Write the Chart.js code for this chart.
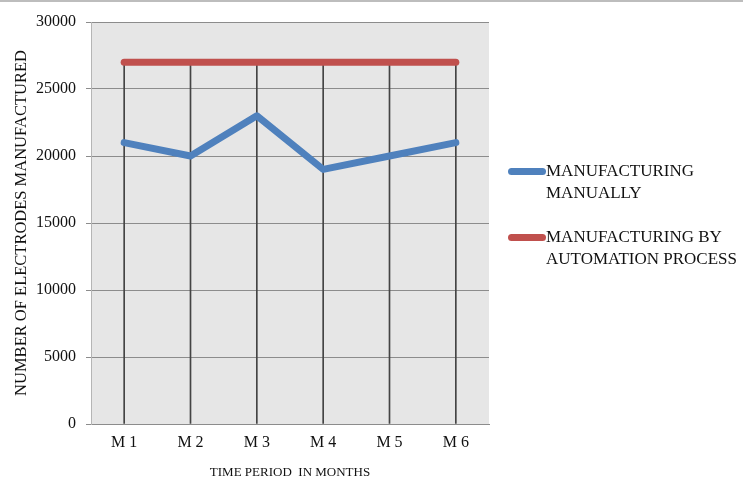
<!DOCTYPE html>
<html>
<head>
<meta charset="utf-8">
<script src="https://cdn.jsdelivr.net/npm/chart.js@4"></script>
<style>
    html, body { margin: 0; padding: 0; background: #fff; }
    #wrap { position: relative; width: 743px; height: 480px; }
    #topLine { position: absolute; left: 0; top: 0; width: 743px; height: 2px; background: #bdbdbd; }
    #legend { position: absolute; left: 508px; top: 160px; font-family: "Liberation Serif", serif; font-size: 17px; color: #111; }
    .item { position: relative; padding-left: 38px; line-height: 22px; margin-bottom: 22px; }
    .swatch { position: absolute; left: 0; top: 8px; width: 38px; height: 7px; border-radius: 3.5px; }
</style>
</head>
<body>
<div id="wrap">
    <canvas id="mainChart" width="743" height="480"></canvas>
    <div id="topLine"></div>
    <div id="legend"></div>
</div>
<script>
// 数据
const months = ['M 1', 'M 2', 'M 3', 'M 4', 'M 5', 'M 6'];
const manualValues = [21000, 20000, 23000, 19000, 20000, 21000];
const automationValues = [27000, 27000, 27000, 27000, 27000, 27000];
const yTicks = [0, 5000, 10000, 15000, 20000, 25000, 30000];

const seriesNames = ['MANUFACTURING\nMANUALLY', 'MANUFACTURING BY\nAUTOMATION PROCESS'];
const seriesColors = ['#4f81bd', '#c0504d'];

// 垂线（从最高点落到横轴）
const dropValues = months.map((_, i) => Math.max(manualValues[i], automationValues[i]));

const serif = '"Liberation Serif", "Times New Roman", serif';

// 绘图区背景
const plotBackground = {
    id: 'plotBackground',
    beforeDraw(chart) {
        const { ctx, chartArea } = chart;
        ctx.save();
        ctx.fillStyle = '#e6e6e6';
        ctx.fillRect(chartArea.left, chartArea.top, chartArea.right - chartArea.left, chartArea.bottom - chartArea.top);
        ctx.restore();
    }
};

const ctx = document.getElementById('mainChart').getContext('2d');
new Chart(ctx, {
    data: {
        labels: months,
        datasets: [
            {
                type: 'line',
                label: seriesNames[0],
                data: manualValues,
                borderColor: seriesColors[0],
                borderWidth: 7,
                pointRadius: 0,
                borderCapStyle: 'round',
                borderJoinStyle: 'round',
                tension: 0,
                order: 1
            },
            {
                type: 'line',
                label: seriesNames[1],
                data: automationValues,
                borderColor: seriesColors[1],
                borderWidth: 7,
                pointRadius: 0,
                borderCapStyle: 'round',
                tension: 0,
                order: 0
            },
            {
                type: 'bar',
                label: 'drop',
                data: dropValues,
                backgroundColor: '#444',
                barThickness: 1,
                order: 10
            }
        ]
    },
    options: {
        responsive: false,
        animation: false,
        layout: { padding: { top: 22, right: 254, left: 0, bottom: 0 } },
        plugins: {
            legend: { display: false },
            tooltip: { enabled: false }
        },
        scales: {
            x: {
                offset: true,
                grid: { display: false, drawTicks: false },
                border: { display: true, color: '#8c8c8c' },
                ticks: { color: '#111', font: { family: serif, size: 16 }, padding: 9 },
                title: {
                    display: true,
                    text: 'TIME PERIOD  IN MONTHS',
                    color: '#111',
                    font: { family: serif, size: 13 },
                    padding: { top: 7, bottom: 0 }
                },
                afterFit(scale) { scale.height = 56; }
            },
            y: {
                min: 0,
                max: 30000,
                afterBuildTicks(scale) { scale.ticks = yTicks.map(v => ({ value: v })); },
                grid: { color: '#8c8c8c', lineWidth: 1, tickLength: 5 },
                border: { display: true, color: '#b5b5b5' },
                ticks: {
                    color: '#111',
                    font: { family: serif, size: 16 },
                    padding: 10,
                    callback: v => String(v)
                },
                title: {
                    display: true,
                    text: 'NUMBER OF ELECTRODES MANUFACTURED',
                    color: '#111',
                    font: { family: serif, size: 16.5 },
                    padding: { top: 12, bottom: 0 }
                },
                afterFit(scale) { scale.width = 91; }
            }
        }
    },
    plugins: [plotBackground]
});

// 图例
const legendEl = document.getElementById('legend');
seriesNames.forEach((name, i) => {
    const item = document.createElement('div');
    item.className = 'item';
    const sw = document.createElement('span');
    sw.className = 'swatch';
    sw.style.background = seriesColors[i];
    item.appendChild(sw);
    name.split('\n').forEach(line => {
        const d = document.createElement('div');
        d.textContent = line;
        item.appendChild(d);
    });
    legendEl.appendChild(item);
});
</script>
</body>
</html>
